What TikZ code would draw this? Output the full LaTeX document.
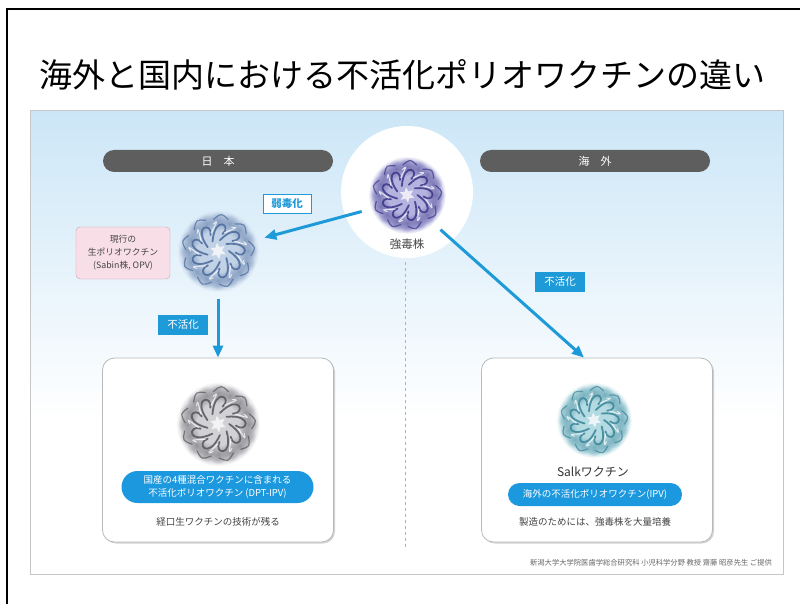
\documentclass[tikz,border=0pt]{standalone}
\usepackage{fontspec}
\setmainfont{Noto Sans CJK JP}
\usetikzlibrary{arrows.meta,shapes.geometric,shapes.misc,fadings,shadows}

\definecolor{arrowblue}{HTML}{1E9AD8}
\definecolor{pillblue}{HTML}{1B98DE}
\definecolor{bargray}{HTML}{5E5E5E}
\definecolor{panelblue}{HTML}{CCE6F7}
\definecolor{pinkfill}{HTML}{F8DEE6}
\definecolor{pinkline}{HTML}{C4A3AF}
\definecolor{txtgray}{HTML}{444444}
\definecolor{wildDark}{HTML}{3A3688}
\definecolor{wildLight}{HTML}{B4B2DE}
\definecolor{sabinDark}{HTML}{4A6A9C}
\definecolor{sabinLight}{HTML}{C2D2E6}
\definecolor{dptDark}{HTML}{55555A}
\definecolor{dptLight}{HTML}{D2D2D6}
\definecolor{salkDark}{HTML}{3A8598}
\definecolor{salkLight}{HTML}{B4DAE2}

% soft round blob used for the capsid knobs
\tikzfading[name=softblob, inner color=transparent!0, outer color=transparent!100]

% a fuzzy, knobbly virus particle drawn around a named node
% #1 node, #2 radius, #3 dark tone, #4 light tone
\newcommand\virusart[4]{%
  \begin{scope}[shift={(#1)}]
    \fill[#4, path fading=circle with fuzzy edge 15 percent] (0,0) circle ({1.05*#2});
    \foreach \k in {0,...,15}{
      \fill[#3, opacity=.5, path fading=softblob]
        ({\k*360/16}:{0.76*#2}) circle ({0.25*#2});
    }
    \foreach \k in {0,...,8}{
      \draw[#3, line width=1.8pt, line cap=round, opacity=.85]
        ({\k*40}:{0.28*#2}) .. controls ({\k*40+25}:{0.95*#2}) and ({\k*40+60}:{0.75*#2}) .. ({\k*40+45}:{0.45*#2});
      \draw[#3, line width=1.2pt, line cap=round, opacity=.7]
        ({\k*40+22}:{0.82*#2}) .. controls ({\k*40+35}:{0.98*#2}) .. ({\k*40+48}:{0.85*#2});
      \draw[white, line width=1pt, line cap=round, opacity=.75]
        ({\k*40+10}:{0.5*#2}) .. controls ({\k*40+30}:{0.8*#2}) .. ({\k*40+20}:{0.7*#2});
    }
    \node[star, star points=6, star point ratio=2.0, fill=white, opacity=.75, rotate=8,
          minimum size={0.42*#2*1pt}, inner sep=0pt] {};
  \end{scope}}

\begin{document}
\begin{tikzpicture}[x=1pt,y=-1pt,
  vir/.style={circle, minimum size=96pt, inner sep=0pt},
  bar/.style={rounded rectangle, fill=bargray, text=white, minimum width=230pt,
              minimum height=22pt, inner sep=0pt, font=\fontsize{11}{11}\selectfont},
  card/.style={draw=gray!55, line width=.8pt, fill=white, rounded corners=12pt,
               minimum width=231pt, minimum height=184pt,
               drop shadow={shadow xshift=1.5pt, shadow yshift=-1.5pt, opacity=.35}},
  pill/.style={rounded rectangle, fill=pillblue, text=white, inner sep=0pt, align=center,
               font=\fontsize{9.5}{12.5}\selectfont},
  tagline/.style={draw=arrowblue, line width=.8pt, fill=white, text=arrowblue,
                  minimum width=48pt, minimum height=19pt, inner sep=0pt,
                  font=\bfseries\fontsize{10.5}{10.5}\selectfont},
  tagfill/.style={fill=arrowblue, text=white, minimum width=50pt, minimum height=20pt,
                  inner sep=0pt, font=\fontsize{10.5}{10.5}\selectfont},
  note/.style={text=txtgray, font=\fontsize{9.5}{9.5}\selectfont},
  arr/.style={draw=arrowblue, line width=3pt, -{Triangle[length=12pt,width=10pt]}}]

\useasboundingbox (0,0) rectangle (800,604);
\fill[white] (0,0) rectangle (800,604);

% slide frame
\draw[line width=1.5pt] (7,604) -- (7,9) -- (800,9);

% heading
\node[font=\fontsize{33}{33}\selectfont] (title) at (402,75) {海外と国内における不活化ポリオワクチンの違い};

% illustration panel
\shade[top color=panelblue, bottom color=white] (30,111) rectangle (783,420);
\fill[white] (30,420) rectangle (783,574);
\draw[gray!45, line width=1pt] (30,111) rectangle (783,574);

% column headers
\node[bar] (jpbar) at (218,161) {日\hspace{1em}本};
\node[bar] (osbar) at (595,161) {海\hspace{1em}外};

% white halo behind the wild strain
\node[circle, fill=white, minimum size=132pt, inner sep=0pt] (halo) at (407,192) {};

% divider between the two columns
\draw[dashed, gray!60, line width=.8pt] (405,262) -- (405,550);

% result cards
\node[card] (leftcard) at (218,450) {};
\node[card] (rightcard) at (597,450) {};

% virus anchors
\node[vir] (strong) at (407,195) {};
\node[vir] (sabin) at (218,251) {};
\node[vir] (dptipv) at (218,424) {};
\node[vir] (salk) at (594,420) {};

\virusart{strong}{37}{wildDark}{wildLight}
\virusart{sabin}{39}{sabinDark}{sabinLight}
\virusart{dptipv}{40}{dptDark}{dptLight}
\virusart{salk}{36}{salkDark}{salkLight}

\node[text=txtgray, font=\fontsize{11.5}{11.5}\selectfont] (stronglbl) at (407,244) {強毒株};

% current oral vaccine label
\node[draw=pinkline, fill=pinkfill, rounded corners=4pt, minimum width=94pt, minimum height=52pt,
      inner sep=0pt, align=center, text=txtgray, font=\fontsize{8.8}{13}\selectfont]
      (opv) at (123,253) {現行の\\生ポリオワクチン\\(Sabin株, OPV)};

% card contents
\node[pill, minimum width=192pt, minimum height=32pt] (dptpill) at (217.5,487)
      {国産の4種混合ワクチンに含まれる\\不活化ポリオワクチン (DPT-IPV)};
\node[note] (leftnote) at (218,522) {経口生ワクチンの技術が残る};

\node[text=black!80, font=\fontsize{12}{12}\selectfont] (salklbl) at (593,472) {Salkワクチン};
\node[pill, minimum width=174pt, minimum height=23pt] (ipvpill) at (595,494.5)
      {海外の不活化ポリオワクチン(IPV)};
\node[note] (rightnote) at (595,522) {製造のためには、強毒株を大量培養};

% process arrows and their labels
\draw[arr] (strong.200) -- (sabin.16);
\draw[arr] (sabin.south) -- (leftcard.north);
\draw[arr] (strong.-46) -- (rightcard.98);

\node[tagline] (weaken) at (287,204) {弱毒化};
\node[tagfill] (inactL) at (183,325) {不活化};
\node[tagfill] (inactR) at (560,282) {不活化};

% credit line
\node[text=gray!80!black, font=\fontsize{7.3}{7.3}\selectfont] (credit) at (651,563)
      {新潟大学大学院医歯学総合研究科 小児科学分野 教授 齋藤 昭彦先生 ご提供};

\end{tikzpicture}
\end{document}
